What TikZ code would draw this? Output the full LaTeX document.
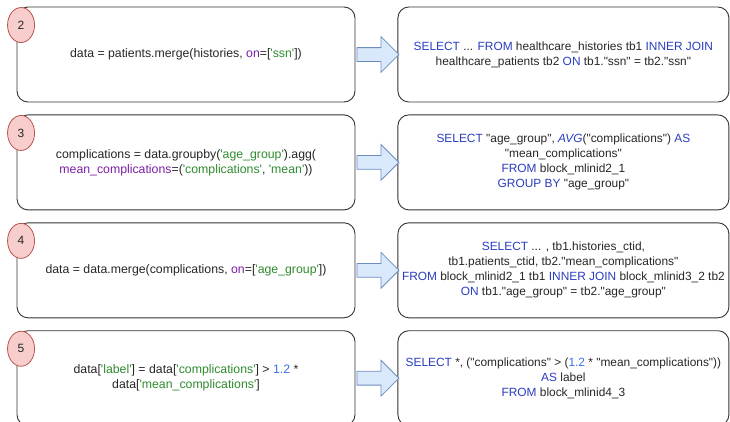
\documentclass[tikz,border=0pt]{standalone}
\usepackage{fontspec}
\usetikzlibrary{positioning,calc,shapes.geometric,shapes.arrows}
\newfontfamily\codefont{Liberation Sans}
\definecolor{sqlkey}{HTML}{2A3DBF}
\definecolor{pyarg}{HTML}{7B1FA2}
\definecolor{pystr}{HTML}{2E8B2E}
\definecolor{pynum}{HTML}{3D6DF2}
\definecolor{markfill}{HTML}{F8CECC}
\definecolor{markline}{HTML}{B85450}
\definecolor{arrowfill}{HTML}{DAE8FC}
\definecolor{arrowline}{HTML}{6C8EBF}
\newcommand\sqlkw[1]{\textcolor{sqlkey}{#1}}
\newcommand\pyarg[1]{\textcolor{pyarg}{#1}}
\newcommand\pystr[1]{\textcolor{pystr}{#1}}
\newcommand\pynum[1]{\textcolor{pynum}{#1}}
\tikzset{
  codebox/.style={draw=black!80, line width=0.9pt, rounded corners=11pt,
    minimum width=338pt, minimum height=95pt, align=center, text=black!85,
    font=\codefont\fontsize{12.3}{15}\selectfont},
  sqlbox/.style={codebox, minimum width=331pt, inner xsep=0pt,
    font=\codefont\fontsize{11.9}{15}\selectfont},
  stepmark/.style={ellipse, draw=markline, fill=markfill, line width=0.8pt,
    minimum width=27pt, minimum height=35pt, inner sep=0pt, text=black!85,
    font=\codefont\fontsize{12}{14}\selectfont},
  blockarrow/.style={single arrow, draw=arrowline, fill=arrowfill, line width=0.8pt,
    minimum height=42pt, minimum width=35pt, single arrow head extend=11pt,
    inner xsep=0pt, inner ysep=6.5pt}
}

\begin{document}
\begin{tikzpicture}[x=1pt,y=-1pt]
\useasboundingbox (0,0) rectangle (730,421);
\node[codebox] (l1) at (186,54.5) {data = patients.merge(histories, \pyarg{on}=[\pystr{'ssn'}])};
\node[codebox, below=12pt of l1] (l2) {complications = data.groupby(\pystr{'age\_group'}).agg(\\
  \pyarg{mean\_complications}=(\pystr{'complications'}, \pystr{'mean'}))};
\node[codebox, below=12pt of l2] (l3) {data = data.merge(complications, \pyarg{on}=[\pystr{'age\_group'}])};
\node[codebox, below=12pt of l3] (l4) {data[\pystr{'label'}] = data[\pystr{'complications'}] > \pynum{1.2} *\\
  data[\pystr{'mean\_complications'}]};

\node[sqlbox, right=42pt of l1] (r1) {\sqlkw{SELECT} ... \sqlkw{FROM} healthcare\_histories tb1 \sqlkw{INNER JOIN}\\
  healthcare\_patients tb2 \sqlkw{ON} tb1."ssn" = tb2."ssn"};
\node[sqlbox, right=42pt of l2] (r2) {\sqlkw{SELECT} "age\_group", \sqlkw{\itshape AVG}("complications") \sqlkw{AS}\\
  "mean\_complications"\\ \sqlkw{FROM} block\_mlinid2\_1\\ \sqlkw{GROUP BY} "age\_group"};
\node[sqlbox, right=42pt of l3] (r3) {\sqlkw{SELECT} ... , tb1.histories\_ctid,\\
  tb1.patients\_ctid, tb2."mean\_complications"\\
  \sqlkw{FROM} block\_mlinid2\_1 tb1 \sqlkw{INNER JOIN} block\_mlinid3\_2 tb2\\
  \sqlkw{ON} tb1."age\_group" = tb2."age\_group"};
\node[sqlbox, right=42pt of l4] (r4) {\sqlkw{SELECT} *, ("complications" > (\pynum{1.2} * "mean\_complications"))\\
  \sqlkw{AS} label\\ \sqlkw{FROM} block\_mlinid4\_3};

\foreach \row/\step in {1/2,2/3,3/4,4/5}{
  \node[stepmark] (m\row) at ($(l\row.north west)+(4.5,18.5)$) {\step};
  \node[blockarrow] (a\row) at ($(l\row.east)!0.5!(r\row.west)+(-2,0)$) {};
}
\end{tikzpicture}
\end{document}
